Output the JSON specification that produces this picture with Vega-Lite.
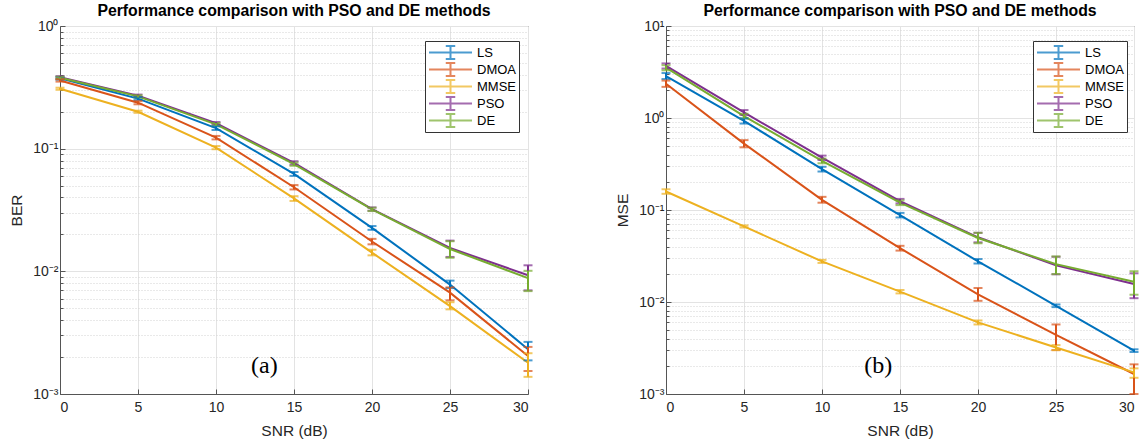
{
  "$schema": "https://vega.github.io/schema/vega-lite/v6.json",
  "background": "white",
  "padding": {"left": 9, "top": 2, "right": 0, "bottom": 0},
  "spacing": 82,
  "config": {
    "font": "Liberation Sans",
    "view": {"stroke": "#555555", "strokeWidth": 1},
    "title": {"font": "Liberation Sans", "fontSize": 15.8, "fontWeight": "bold", "color": "black", "offset": -1},
    "axis": {
      "labelFont": "Liberation Sans", "labelFontSize": 14, "labelColor": "#262626",
      "titleFont": "Liberation Sans", "titleFontSize": 15.5, "titleColor": "#262626", "titleFontWeight": "normal",
      "domainColor": "#555555", "tickColor": "#555555", "gridColor": "#e3e3e3", "gridWidth": 1
    },
    "legend": {
      "orient": "none", "title": null,
      "strokeColor": "#333333", "fillColor": "white", "padding": 3,
      "labelFont": "Liberation Sans", "labelFontSize": 13, "labelColor": "black",
      "symbolType": "M-1,0H1M0,-0.3V0.3M-0.22,-0.3H0.22M-0.22,0.3H0.22",
      "symbolSize": 1849, "symbolStrokeWidth": 2, "symbolFillColor": "transparent",
      "clipHeight": 17, "rowPadding": 0, "labelOffset": 4
    }
  },
  "resolve": {"scale": {"color": "independent"}},
  "datasets": {
    "ber": [
      {"snr": 0, "method": "LS", "value": 0.375, "lo": 0.365, "hi": 0.385},
      {"snr": 5, "method": "LS", "value": 0.256, "lo": 0.249, "hi": 0.263},
      {"snr": 10, "method": "LS", "value": 0.147, "lo": 0.142, "hi": 0.152},
      {"snr": 15, "method": "LS", "value": 0.0622, "lo": 0.06, "hi": 0.0645},
      {"snr": 20, "method": "LS", "value": 0.0226, "lo": 0.0218, "hi": 0.0234},
      {"snr": 25, "method": "LS", "value": 0.0078, "lo": 0.0073, "hi": 0.0084},
      {"snr": 30, "method": "LS", "value": 0.00232, "lo": 0.00188, "hi": 0.00266},
      {"snr": 0, "method": "DMOA", "value": 0.36, "lo": 0.352, "hi": 0.368},
      {"snr": 5, "method": "DMOA", "value": 0.237, "lo": 0.23, "hi": 0.244},
      {"snr": 10, "method": "DMOA", "value": 0.123, "lo": 0.119, "hi": 0.127},
      {"snr": 15, "method": "DMOA", "value": 0.0485, "lo": 0.0465, "hi": 0.0505},
      {"snr": 20, "method": "DMOA", "value": 0.0175, "lo": 0.0166, "hi": 0.0184},
      {"snr": 25, "method": "DMOA", "value": 0.0067, "lo": 0.0058, "hi": 0.0074},
      {"snr": 30, "method": "DMOA", "value": 0.00204, "lo": 0.00154, "hi": 0.00242},
      {"snr": 0, "method": "MMSE", "value": 0.308, "lo": 0.302, "hi": 0.314},
      {"snr": 5, "method": "MMSE", "value": 0.2, "lo": 0.196, "hi": 0.204},
      {"snr": 10, "method": "MMSE", "value": 0.102, "lo": 0.099, "hi": 0.105},
      {"snr": 15, "method": "MMSE", "value": 0.0393, "lo": 0.0375, "hi": 0.041},
      {"snr": 20, "method": "MMSE", "value": 0.0142, "lo": 0.0135, "hi": 0.015},
      {"snr": 25, "method": "MMSE", "value": 0.0052, "lo": 0.0049, "hi": 0.0056},
      {"snr": 30, "method": "MMSE", "value": 0.0018, "lo": 0.00138, "hi": 0.00215},
      {"snr": 0, "method": "PSO", "value": 0.382, "lo": 0.373, "hi": 0.39},
      {"snr": 5, "method": "PSO", "value": 0.27, "lo": 0.264, "hi": 0.276},
      {"snr": 10, "method": "PSO", "value": 0.161, "lo": 0.157, "hi": 0.165},
      {"snr": 15, "method": "PSO", "value": 0.0765, "lo": 0.074, "hi": 0.079},
      {"snr": 20, "method": "PSO", "value": 0.0322, "lo": 0.0312, "hi": 0.0332},
      {"snr": 25, "method": "PSO", "value": 0.0155, "lo": 0.0131, "hi": 0.0178},
      {"snr": 30, "method": "PSO", "value": 0.0093, "lo": 0.007, "hi": 0.0112},
      {"snr": 0, "method": "DE", "value": 0.378, "lo": 0.37, "hi": 0.386},
      {"snr": 5, "method": "DE", "value": 0.267, "lo": 0.261, "hi": 0.273},
      {"snr": 10, "method": "DE", "value": 0.158, "lo": 0.154, "hi": 0.162},
      {"snr": 15, "method": "DE", "value": 0.0748, "lo": 0.0725, "hi": 0.0772},
      {"snr": 20, "method": "DE", "value": 0.032, "lo": 0.031, "hi": 0.033},
      {"snr": 25, "method": "DE", "value": 0.0152, "lo": 0.0129, "hi": 0.0176},
      {"snr": 30, "method": "DE", "value": 0.0088, "lo": 0.0069, "hi": 0.0101}
    ],
    "mse": [
      {"snr": 0, "method": "LS", "value": 2.86, "lo": 2.65, "hi": 3.08},
      {"snr": 5, "method": "LS", "value": 0.93, "lo": 0.87, "hi": 0.99},
      {"snr": 10, "method": "LS", "value": 0.278, "lo": 0.262, "hi": 0.295},
      {"snr": 15, "method": "LS", "value": 0.088, "lo": 0.083, "hi": 0.093},
      {"snr": 20, "method": "LS", "value": 0.0277, "lo": 0.0262, "hi": 0.0293},
      {"snr": 25, "method": "LS", "value": 0.0091, "lo": 0.0088, "hi": 0.0094},
      {"snr": 30, "method": "LS", "value": 0.00296, "lo": 0.00286, "hi": 0.00306},
      {"snr": 0, "method": "DMOA", "value": 2.36, "lo": 2.18, "hi": 2.55},
      {"snr": 5, "method": "DMOA", "value": 0.527, "lo": 0.48, "hi": 0.575},
      {"snr": 10, "method": "DMOA", "value": 0.129, "lo": 0.12, "hi": 0.139},
      {"snr": 15, "method": "DMOA", "value": 0.0385, "lo": 0.0362, "hi": 0.0408},
      {"snr": 20, "method": "DMOA", "value": 0.0121, "lo": 0.0103, "hi": 0.0142},
      {"snr": 25, "method": "DMOA", "value": 0.00438, "lo": 0.003, "hi": 0.0057},
      {"snr": 30, "method": "DMOA", "value": 0.00165, "lo": 0.001, "hi": 0.0021},
      {"snr": 0, "method": "MMSE", "value": 0.159, "lo": 0.15, "hi": 0.168},
      {"snr": 5, "method": "MMSE", "value": 0.0663, "lo": 0.0645, "hi": 0.068},
      {"snr": 10, "method": "MMSE", "value": 0.0276, "lo": 0.0266, "hi": 0.0287},
      {"snr": 15, "method": "MMSE", "value": 0.01295, "lo": 0.0124, "hi": 0.0135},
      {"snr": 20, "method": "MMSE", "value": 0.006, "lo": 0.0057, "hi": 0.0063},
      {"snr": 25, "method": "MMSE", "value": 0.0032, "lo": 0.003, "hi": 0.0034},
      {"snr": 30, "method": "MMSE", "value": 0.00172, "lo": 0.0015, "hi": 0.0019},
      {"snr": 0, "method": "PSO", "value": 3.68, "lo": 3.45, "hi": 3.92},
      {"snr": 5, "method": "PSO", "value": 1.15, "lo": 1.08, "hi": 1.22},
      {"snr": 10, "method": "PSO", "value": 0.37, "lo": 0.35, "hi": 0.39},
      {"snr": 15, "method": "PSO", "value": 0.125, "lo": 0.118, "hi": 0.132},
      {"snr": 20, "method": "PSO", "value": 0.0505, "lo": 0.0445, "hi": 0.0565},
      {"snr": 25, "method": "PSO", "value": 0.025, "lo": 0.02, "hi": 0.031},
      {"snr": 30, "method": "PSO", "value": 0.0157, "lo": 0.011, "hi": 0.0205},
      {"snr": 0, "method": "DE", "value": 3.52, "lo": 3.3, "hi": 3.75},
      {"snr": 5, "method": "DE", "value": 1.05, "lo": 0.99, "hi": 1.11},
      {"snr": 10, "method": "DE", "value": 0.342, "lo": 0.322, "hi": 0.362},
      {"snr": 15, "method": "DE", "value": 0.12, "lo": 0.113, "hi": 0.127},
      {"snr": 20, "method": "DE", "value": 0.0496, "lo": 0.0435, "hi": 0.0565},
      {"snr": 25, "method": "DE", "value": 0.0258, "lo": 0.0201, "hi": 0.0313},
      {"snr": 30, "method": "DE", "value": 0.0166, "lo": 0.012, "hi": 0.0216}
    ]
  },
  "hconcat": [
    {
      "width": 468, "height": 368,
      "title": {"text": "Performance comparison with PSO and DE methods"},
      "data": {"name": "ber"},
      "layer": [
        {
          "mark": {"type": "line", "strokeWidth": 2},
          "encoding": {
            "x": {"field": "snr", "type": "quantitative", "title": "SNR (dB)", "scale": {"domain": [0, 30], "nice": false},
              "axis": {"values": [0, 5, 10, 15, 20, 25, 30], "grid": true, "tickSize": -5, "labelPadding": 11, "titlePadding": 9}},
            "y": {"field": "value", "type": "quantitative", "title": "BER", "scale": {"type": "log", "domain": [0.001, 1], "nice": false},
              "axis": {"titlePadding": 8, "labelPadding": 7,
                "values": [0.001, 0.002, 0.003, 0.004, 0.005, 0.006, 0.007, 0.008, 0.009, 0.01, 0.02, 0.03, 0.04, 0.05, 0.06, 0.07, 0.08, 0.09, 0.1, 0.2, 0.3, 0.4, 0.5, 0.6, 0.7, 0.8, 0.9, 1],
                "labelExpr": "abs(log(datum.value)/LN10 - round(log(datum.value)/LN10)) > 0.001 ? '' : (round(log(datum.value)/LN10) == 1 ? '10¹' : round(log(datum.value)/LN10) == 0 ? '10⁰' : round(log(datum.value)/LN10) == -1 ? '10⁻¹' : round(log(datum.value)/LN10) == -2 ? '10⁻²' : '10⁻³')",
                "gridDash": {"condition": {"test": "abs(log(datum.value)/LN10 - round(log(datum.value)/LN10)) < 0.001", "value": []}, "value": [1, 2]},
                "gridColor": {"condition": {"test": "abs(log(datum.value)/LN10 - round(log(datum.value)/LN10)) < 0.001", "value": "#e3e3e3"}, "value": "#d2d2d2"},
                "tickSize": {"condition": {"test": "abs(log(datum.value)/LN10 - round(log(datum.value)/LN10)) < 0.001", "value": -5}, "value": -3}}},
            "color": {"field": "method", "type": "nominal", "scale": {"domain": ["LS", "DMOA", "MMSE", "PSO", "DE"], "range": ["#0072BD", "#D95319", "#EDB120", "#7E2F8E", "#77AC30"]},
              "legend": {"legendX": 365, "legendY": 15}}
          }
        },
        {
          "mark": {"type": "errorbar", "ticks": {"size": 9}, "thickness": 2},
          "encoding": {
            "x": {"field": "snr", "type": "quantitative", "title": "SNR (dB)"},
            "y": {"field": "lo", "type": "quantitative", "title": "BER"},
            "y2": {"field": "hi"},
            "color": {"field": "method", "type": "nominal"}
          }
        },
        {
          "data": {"values": [{}]},
          "mark": {"type": "text", "font": "Liberation Serif", "fontSize": 24, "color": "black"},
          "encoding": {"x": {"datum": 13.1}, "y": {"datum": 0.0017}, "text": {"value": "(a)"}}
        }
      ]
    },
    {
      "width": 468, "height": 368,
      "title": {"text": "Performance comparison with PSO and DE methods"},
      "data": {"name": "mse"},
      "layer": [
        {
          "mark": {"type": "line", "strokeWidth": 2},
          "encoding": {
            "x": {"field": "snr", "type": "quantitative", "title": "SNR (dB)", "scale": {"domain": [0, 30], "nice": false},
              "axis": {"values": [0, 5, 10, 15, 20, 25, 30], "grid": true, "tickSize": -5, "labelPadding": 11, "titlePadding": 9}},
            "y": {"field": "value", "type": "quantitative", "title": "MSE", "scale": {"type": "log", "domain": [0.001, 10], "nice": false},
              "axis": {"titlePadding": 8, "labelPadding": 7,
                "values": [0.001, 0.002, 0.003, 0.004, 0.005, 0.006, 0.007, 0.008, 0.009, 0.01, 0.02, 0.03, 0.04, 0.05, 0.06, 0.07, 0.08, 0.09, 0.1, 0.2, 0.3, 0.4, 0.5, 0.6, 0.7, 0.8, 0.9, 1, 2, 3, 4, 5, 6, 7, 8, 9, 10],
                "labelExpr": "abs(log(datum.value)/LN10 - round(log(datum.value)/LN10)) > 0.001 ? '' : (round(log(datum.value)/LN10) == 1 ? '10¹' : round(log(datum.value)/LN10) == 0 ? '10⁰' : round(log(datum.value)/LN10) == -1 ? '10⁻¹' : round(log(datum.value)/LN10) == -2 ? '10⁻²' : '10⁻³')",
                "gridDash": {"condition": {"test": "abs(log(datum.value)/LN10 - round(log(datum.value)/LN10)) < 0.001", "value": []}, "value": [1, 2]},
                "gridColor": {"condition": {"test": "abs(log(datum.value)/LN10 - round(log(datum.value)/LN10)) < 0.001", "value": "#e3e3e3"}, "value": "#d2d2d2"},
                "tickSize": {"condition": {"test": "abs(log(datum.value)/LN10 - round(log(datum.value)/LN10)) < 0.001", "value": -5}, "value": -3}}},
            "color": {"field": "method", "type": "nominal", "scale": {"domain": ["LS", "DMOA", "MMSE", "PSO", "DE"], "range": ["#0072BD", "#D95319", "#EDB120", "#7E2F8E", "#77AC30"]},
              "legend": {"legendX": 367, "legendY": 15}}
          }
        },
        {
          "mark": {"type": "errorbar", "ticks": {"size": 9}, "thickness": 2},
          "encoding": {
            "x": {"field": "snr", "type": "quantitative", "title": "SNR (dB)"},
            "y": {"field": "lo", "type": "quantitative", "title": "MSE"},
            "y2": {"field": "hi"},
            "color": {"field": "method", "type": "nominal"}
          }
        },
        {
          "data": {"values": [{}]},
          "mark": {"type": "text", "font": "Liberation Serif", "fontSize": 24, "color": "black"},
          "encoding": {"x": {"datum": 13.6}, "y": {"datum": 0.00204}, "text": {"value": "(b)"}}
        }
      ]
    }
  ]
}
